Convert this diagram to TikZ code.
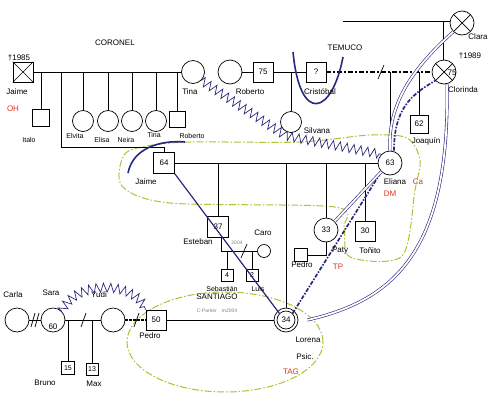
\documentclass[tikz,border=0pt]{standalone}
\usepackage{fontspec}
\setmainfont{Liberation Sans}
\usepackage{tikz}
\usetikzlibrary{decorations.pathmorphing,positioning}
\definecolor{relblue}{RGB}{40,40,125}
\definecolor{homegreen}{RGB}{170,195,50}
\definecolor{notered}{RGB}{225,50,30}
\newcommand{\namesize}{\fontsize{8}{9}\selectfont}
\newcommand{\smallsize}{\fontsize{7}{8}\selectfont}
\tikzset{
	male/.style={draw,rectangle,minimum size=20pt,inner sep=0pt,font=\namesize},
	female/.style={draw,circle,minimum size=24pt,inner sep=0pt,font=\namesize},
	lbl/.style={inner sep=0pt,font=\namesize},
	smalllbl/.style={inner sep=0pt,font=\smallsize},
	redlbl/.style={lbl,text=notered},
	graylbl/.style={inner sep=0pt,text=gray,font=\fontsize{5}{6}\selectfont},
	hostile/.style={draw=relblue,line width=0.7pt,decorate,decoration={zigzag,segment length=7pt,amplitude=4.5pt}},
	cutoff/.style={draw=relblue,line width=1.6pt},
	fused/.style={draw=relblue,line width=1.7pt,dash pattern=on 4pt off 1.5pt on 1.5pt off 1.5pt},
	closeline/.style={draw=relblue,double=white,double distance=1.8pt,line width=0.6pt},
	household/.style={draw=homegreen,line width=1pt,dash pattern=on 7pt off 2pt on 1.5pt off 2pt},
}

\begin{document}
\begin{tikzpicture}[x=1pt,y=-1pt,line width=0.7pt]
	\useasboundingbox (0,0) rectangle (489,402);
	% households
	\draw[household] plot[smooth cycle,tension=0.5] coordinates {(122,186) (124,155) (147,146) (190,142) (300,142) (370,135) (407,138) (420,160) (415,190) (402,256) (350,257) (344,228) (335,207) (170,203)};
	\draw[household] (225,342) ellipse (98pt and 50pt);

	% CORONEL family
	\node[male] (jaime) at (23,72) {};
	\draw (jaime.north west) -- (jaime.south east) (jaime.north east) -- (jaime.south west);
	\node[female,minimum size=23pt] (tina) at (193,72) {};
	\node[male,minimum size=17pt] (italo) at (41,118) {};
	\node[female,minimum size=21pt] (elvita) at (83,121) {};
	\node[female,minimum size=21pt] (elisa) at (108,121) {};
	\node[female,minimum size=21pt] (neira) at (132,121) {};
	\node[female,minimum size=21pt] (tinajr) at (156,121) {};
	\node[male,minimum size=16pt] (robertojr) at (177,119) {};
	\node[male,minimum size=21pt] (jaimejr) at (164,163) {64};
	\draw (jaime) -- (tina);
	\foreach \kid in {italo,elvita,elisa,neira,tinajr,robertojr}
		\draw (\kid.north) -- (\kid |- jaime.east);
	\coordinate (jaimekin) at (61,72);
	\draw (jaimekin) -- ++(0,75) -| (jaimejr.north);

	% TEMUCO family
	\node[female] (robertowife) at (230,72) {};
	\node[male] (roberto) at (263,72) {75};
	\node[female,minimum size=21pt] (silvana) at (291,122) {};
	\node[male] (cristobal) at (316,72) {?};
	\node[female] (clorinda) at (444,72) {};
	\draw (clorinda.north west) -- (clorinda.south east) (clorinda.north east) -- (clorinda.south west);
	\node[female] (clara) at (462,23) {};
	\draw (clara.north west) -- (clara.south east) (clara.north east) -- (clara.south west);
	\node[male,minimum size=18pt] (joaquin) at (419,124) {62};
	\node[female] (eliana) at (390,163) {63};
	\coordinate (claraline) at (343,21);
	\draw (claraline) -- (claraline -| clara.west);
	\draw (clorinda.north -| 443,0) -- (443,21);
	\draw (robertowife) -- (roberto) -- (cristobal);
	\draw (silvana.north) -- (silvana |- roberto.east);
	\draw[line width=1.8pt,dash pattern=on 5pt off 2pt on 2pt off 2pt] (cristobal.east) -- (clorinda.west);
	\draw (378,79) -- (384,65);
	\draw (eliana.north) -- (eliana |- cristobal.east);
	\draw (joaquin.north) -- (joaquin |- cristobal.east);

	% Jaime and Eliana
	\node[male,minimum size=21pt] (esteban) at (218,227) {37};
	\node[female,minimum size=13pt] (caro) at (264,251) {};
	\node[male,minimum size=12pt,font=\smallsize] (sebastian) at (227,275) {4};
	\node[male,minimum size=12pt,font=\smallsize] (luis) at (252,275) {2};
	\node[male,minimum size=13pt] (pedrop) at (301,255) {};
	\node[female] (paty) at (326,230) {33};
	\node[male] (tonito) at (365,231) {30};
	\node[female,minimum size=18pt] (lorena) at (286,320) {34};
	\draw (lorena.center) circle (12pt);
	\draw (jaimejr.east) -- (eliana.west);
	\foreach \kid in {esteban,paty,tonito}
		\draw (\kid.north) -- (\kid |- eliana.west);
	\draw (lorena.north) ++(0,-3) -- (lorena |- eliana.west);
	\draw (esteban.south) ++(3,0) |- (caro.west);
	\draw (241,258) -- (247,244);
	\draw (sebastian.north) -- (sebastian |- caro.west);
	\draw (luis.north) -- (luis |- caro.west);
	\draw (pedrop.east) -| (paty.south);

	% SANTIAGO
	\node[female] (carla) at (17,320) {};
	\node[female] (sara) at (53,320) {};
	\node[female] (yudi) at (113,320) {};
	\node[male] (pedro) at (156,320) {50};
	\node[male,minimum size=13pt,font=\smallsize] (bruno) at (68,368) {15};
	\node[male,minimum size=12pt,font=\smallsize] (max) at (92,369) {13};
	\draw (carla) -- (sara);
	\draw (31,327) -- (35,313) (35,327) -- (39,313);
	\draw (sara) -- (yudi);
	\draw (81,327) -- (86,313);
	\draw[line width=2pt,dash pattern=on 2.5pt off 1.5pt] (yudi.east) -- (pedro.west);
	\draw (134,327) -- (139,313);
	\draw (pedro.east) -- ([xshift=-3pt]lorena.west);
	\draw (bruno.north) -- (bruno |- sara.east);
	\draw (max.north) -- (max |- sara.east);

	% relations
	\draw[hostile] (tina.south east) -- (286,136) -- (eliana.north west);
	\draw[hostile] (sara.north east) .. controls (75,280) and (135,280) .. (pedro.north west);
	\draw[cutoff] (293,52) .. controls (300,125) and (332,115) .. (343,57);
	\draw[cutoff] (128,173) .. controls (133,148) and (160,140) .. (185,142);
	\draw[relblue,line width=1.2pt] (jaimejr.south east) -- (lorena.north west);
	\draw[fused] (lorena.north east) -- (eliana.south west);
	\draw[fused] ([xshift=4pt]eliana.north) .. controls (394,110) and (410,95) .. (clorinda.south west);
	\draw[closeline] (clara.south west) .. controls (405,75) and (388,110) .. (eliana.north);
	\draw[closeline] (eliana.south west) -- (paty.north east);
	\draw[closeline] ([xshift=12pt]lorena.east) .. controls (395,300) and (450,250) .. ([xshift=3pt]clorinda.south);

	% texts
	\node[lbl] (coronel) at (115,43) {CORONEL};
	\node[lbl] (temuco) at (345,48) {TEMUCO};
	\node[lbl] (santiago) at (217,297) {SANTIAGO};
	\node[lbl] at (19,58) {†1985};
	\node[lbl] at (17,92) {Jaime};
	\node[redlbl] at (13,109) {OH};
	\node[smalllbl] at (29,140) {Italo};
	\node[smalllbl] at (75,136) {Elvita};
	\node[smalllbl] at (102,140) {Elisa};
	\node[smalllbl] at (126,140) {Neira};
	\node[smalllbl] at (154,135) {Tina};
	\node[smalllbl] at (192,136) {Roberto};
	\node[lbl] at (190,92) {Tina};
	\node[lbl] at (250,92) {Roberto};
	\node[lbl] at (317,131) {Silvana};
	\node[lbl] at (320,92) {Cristóbal};
	\node[lbl] at (452,73) {75};
	\node[lbl] at (470,56) {†1989};
	\node[lbl] at (463,90) {Clorinda};
	\node[lbl] at (478,37) {Clara};
	\node[lbl] at (426,141) {Joaquín};
	\node[lbl] at (395,182) {Eliana};
	\node[redlbl] at (418,182) {Ca};
	\node[redlbl] at (390,194) {DM};
	\node[lbl] at (146,182) {Jaime};
	\node[lbl] at (198,242) {Esteban};
	\node[lbl] at (263,233) {Caro};
	\node[graylbl] at (237,243) {2004};
	\node[smalllbl] at (222,289) {Sebastián};
	\node[smalllbl] at (258,289) {Luis};
	\node[lbl] at (302,265) {Pedro};
	\node[lbl] at (340,251) {Paty};
	\node[redlbl] at (338,267) {TP};
	\node[lbl] at (370,251) {Toñito};
	\node[graylbl] at (217,311) {C-Parker\quad m2004};
	\node[lbl] at (308,340) {Lorena};
	\node[lbl] at (305,357) {Psic.};
	\node[redlbl] at (291,372) {TAG};
	\node[lbl] at (13,295) {Carla};
	\node[lbl] at (51,293) {Sara};
	\node[lbl] at (53,327) {60};
	\node[lbl] at (99,295) {Yudi};
	\node[lbl] at (150,336) {Pedro};
	\node[lbl] at (45,383) {Bruno};
	\node[lbl] at (94,384) {Max};
\end{tikzpicture}
\end{document}
